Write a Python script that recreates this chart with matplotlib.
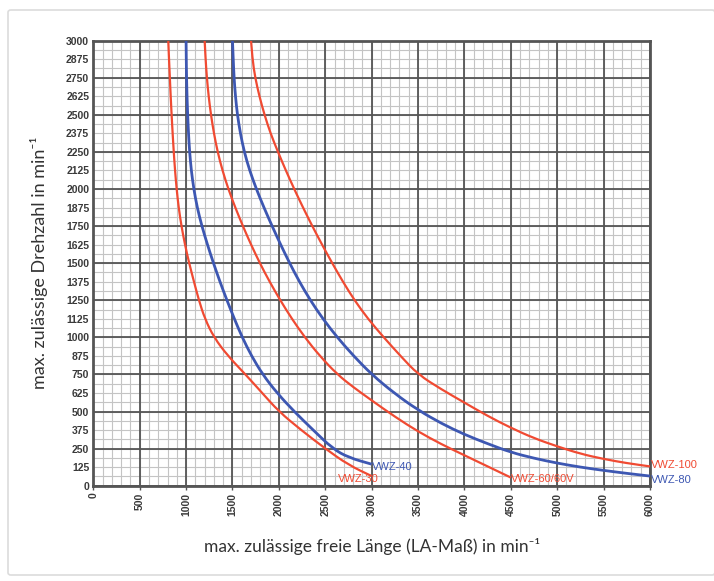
import matplotlib.pyplot as plt
from matplotlib.patches import FancyBboxPatch, PathPatch
from matplotlib.path import Path

# Kennlinien (x = freie Länge, y = Drehzahl)
vwz30_x = [808, 816, 825, 834, 844, 855, 867, 881, 898, 920, 950, 988, 1033, 1085, 1138, 1203,
           1300, 1450, 1640, 1820, 2000, 2240, 2500, 2750, 3000]
vwz30_y = [3000, 2875, 2750, 2625, 2500, 2375, 2250, 2125, 2000, 1875, 1750, 1625, 1500, 1375, 1250, 1125,
           1000, 875, 750, 625, 500, 375, 250, 140, 65]

vwz40_x = [1000, 1002, 1005, 1010, 1017, 1026, 1038, 1056, 1083, 1120, 1170, 1230, 1295, 1365, 1440, 1520,
           1605, 1705, 1825, 1980, 2165, 2370, 2580, 2750, 3000]
vwz40_y = [3000, 2875, 2750, 2625, 2500, 2375, 2250, 2125, 2000, 1875, 1750, 1625, 1500, 1375, 1250, 1125,
           1000, 875, 750, 625, 500, 375, 250, 190, 145]

vwz60_x = [1200, 1210, 1224, 1243, 1268, 1300, 1340, 1392, 1455, 1530, 1612, 1700, 1795, 1900, 2015, 2140,
           2280, 2440, 2630, 2800, 3000, 3250, 3500, 3750, 4000, 4250, 4500]
vwz60_y = [3000, 2875, 2750, 2625, 2500, 2375, 2250, 2125, 2000, 1875, 1750, 1625, 1500, 1375, 1250, 1125,
           1000, 875, 750, 665, 575, 465, 365, 280, 205, 130, 55]

vwz80_x = [1500, 1508, 1517, 1532, 1553, 1585, 1627, 1685, 1757, 1839, 1927, 2019, 2116, 2221, 2339, 2474,
           2629, 2805, 3000, 3250, 3500, 3750, 4000, 4250, 4500, 4750, 5000, 5250, 5500, 5750, 6000]
vwz80_y = [3000, 2875, 2750, 2625, 2500, 2375, 2250, 2125, 2000, 1875, 1750, 1625, 1500, 1375, 1250, 1125,
           1000, 875, 750, 620, 510, 420, 345, 283, 225, 185, 152, 125, 103, 83, 65]

vwz100_x = [1700, 1715, 1745, 1790, 1845, 1910, 1990, 2075, 2165, 2260, 2360, 2465, 2575, 2690, 2815, 2960,
            3130, 3310, 3500, 3750, 4000, 4250, 4500, 4750, 5000, 5250, 5500, 5750, 6000]
vwz100_y = [3000, 2875, 2750, 2625, 2500, 2375, 2250, 2125, 2000, 1875, 1750, 1625, 1500, 1375, 1250, 1125,
            1000, 875, 750, 650, 560, 470, 390, 320, 265, 215, 180, 152, 130]

x_ticks = list(range(0, 6001, 500))
y_ticks = [i * 125 for i in range(25)]

RED = '#f04a32'
BLUE = '#3d57b2'
TXT = ['Lato', 'DejaVu Sans']
TICKF = ['Liberation Sans Narrow', 'Liberation Sans', 'DejaVu Sans']


def smooth_curve(ax, xs, ys, color, lw):
    # quadratische B-Spline mit den Messpunkten als Stützpunkten
    pts = list(zip(xs, ys))
    verts = [pts[0]]
    codes = [Path.MOVETO]
    for i in range(1, len(pts) - 1):
        nxt = pts[i + 1]
        mid = ((pts[i][0] + nxt[0]) / 2, (pts[i][1] + nxt[1]) / 2)
        verts += [pts[i], mid]
        codes += [Path.CURVE3, Path.CURVE3]
    verts.append(pts[-1])
    codes.append(Path.LINETO)
    ax.add_patch(PathPatch(Path(verts, codes), facecolor='none', edgecolor=color,
                           lw=lw, zorder=3, capstyle='butt'))


fig = plt.figure(figsize=(7.14, 5.81), dpi=100)
fig.patches.append(FancyBboxPatch((8 / 714, 6 / 581), 0.99, 1 - 16 / 581,
                                  boxstyle='round,pad=0,rounding_size=0.004',
                                  transform=fig.transFigure, fill=False,
                                  edgecolor='#dcdcdc', linewidth=1.2))

ax = fig.add_axes([93.3 / 714, 1 - 485.7 / 581, (650 - 93.3) / 714, (485.7 - 40.6) / 581])
ax.set_xlim(0, 6000)
ax.set_ylim(0, 3000)

# Raster
for v in range(0, 6001, 100):
    ax.axvline(v, color='#c4c4c4', lw=0.8, zorder=0)
for v in [i * 62.5 for i in range(49)]:
    ax.axhline(v, color='#c4c4c4', lw=0.8, zorder=0)
for v in x_ticks:
    ax.axvline(v, color='#555555', lw=1.3, zorder=1)
for v in range(0, 3001, 250):
    ax.axhline(v, color='#555555', lw=1.3, zorder=1)

smooth_curve(ax, vwz30_x, vwz30_y, RED, 1.6)
smooth_curve(ax, vwz40_x, vwz40_y, BLUE, 2.0)
smooth_curve(ax, vwz60_x, vwz60_y, RED, 1.6)
smooth_curve(ax, vwz80_x, vwz80_y, BLUE, 2.0)
smooth_curve(ax, vwz100_x, vwz100_y, RED, 1.6)

lab = dict(fontsize=8, family=['Liberation Sans', 'DejaVu Sans'], va='center', clip_on=False, zorder=4)
ax.text(3000, 125, 'VWZ-40', color=BLUE, ha='left', **lab)
ax.text(2640, 45, 'VWZ-30', color=RED, ha='left', **lab)
ax.text(4500, 45, 'VWZ-60/60V', color=RED, ha='left', **lab)
ax.text(6010, 140, 'VWZ-100', color=RED, ha='left', **lab)
ax.text(6010, 40, 'VWZ-80', color=BLUE, ha='left', **lab)

for s in ax.spines.values():
    s.set_color('#555555')
    s.set_linewidth(2)

ax.set_xticks(x_ticks)
ax.set_yticks(y_ticks)
ax.set_xticklabels([str(v) for v in x_ticks], rotation=90, fontsize=7.5,
                   fontweight='bold', family=TICKF, color='#3a3a3a')
ax.set_yticklabels([str(v) for v in y_ticks], fontsize=7.5,
                   fontweight='bold', family=TICKF, color='#3a3a3a')
ax.tick_params(axis='x', length=3, width=1, color='#555555', pad=2)
ax.tick_params(axis='y', length=0, pad=3)

ax.set_xlabel('max. zulässige freie Länge (LA-Maß) in min\u207b\u00b9', fontsize=12.5,
              family=TXT, color='#333333', labelpad=16)
ax.set_ylabel('max. zulässige Drehzahl in min\u207b\u00b9', fontsize=13,
              family=TXT, color='#333333', labelpad=13)

fig.savefig('out.png', dpi=100)
